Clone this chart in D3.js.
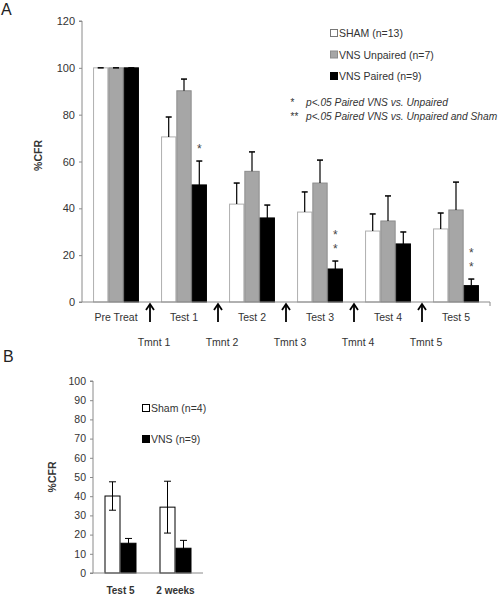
<!DOCTYPE html>
<html>
<head>
<meta charset="utf-8">
<script src="https://cdn.jsdelivr.net/npm/d3@7"></script>
<style>
  body { margin: 0; background: #fff; }
  svg { display: block; font-family: "Liberation Sans", Arial, sans-serif; }
</style>
</head>
<body>
<svg id="chart" width="501" height="600"></svg>
<script>
// ---------- Panel A data ----------
const categoriesA = ["Pre Treat", "Test 1", "Test 2", "Test 3", "Test 4", "Test 5"];
const treatmentsA = ["Tmnt 1", "Tmnt 2", "Tmnt 3", "Tmnt 4", "Tmnt 5"];
const seriesA = ["SHAM (n=13)", "VNS Unpaired (n=7)", "VNS Paired (n=9)"];
const shamA = [100, 70.5, 41.8, 38.4, 30.3, 31.2];
const shamAErr = [0, 8.5, 9.0, 8.6, 7.3, 6.8];
const unpairedA = [100, 90.2, 55.8, 50.8, 34.6, 39.3];
const unpairedAErr = [0, 5.0, 8.3, 9.8, 10.7, 11.9];
const pairedA = [100, 50.0, 35.9, 14.1, 24.8, 7.0];
const pairedAErr = [0, 10.2, 5.5, 3.4, 5.1, 2.8];
const sigA = ["", "*", "", "**", "", "**"];
const yTicksA = [0, 20, 40, 60, 80, 100, 120];
const notesA = [["*", "p<.05 Paired VNS vs. Unpaired"], ["**", "p<.05 Paired VNS vs. Unpaired and Sham"]];

// ---------- Panel B data ----------
const categoriesB = ["Test 5", "2 weeks"];
const seriesB = ["Sham (n=4)", "VNS (n=9)"];
const shamB = [40.1, 34.3];
const shamBErr = [7.4, 13.5];
const vnsB = [15.5, 12.9];
const vnsBErr = [2.5, 4.1];
const yTicksB = [0, 10, 20, 30, 40, 50, 60, 70, 80, 90, 100];

const fills = ["#ffffff", "#a6a6a6", "#000000"];
const strokes = ["#b0b0b0", "#8c8c8c", "#000000"];
const axisColor = "#8a8a8a";
const textColor = "#333333";

const svg = d3.select("#chart");

// ================= Panel A =================
(function () {
  const left = 82, right = 490, top = 21, bottom = 302;
  const slots = [];
  categoriesA.forEach((c, i) => {
    slots.push("c:" + c);
    if (i < treatmentsA.length) slots.push("t:" + treatmentsA[i]);
  });
  const x = d3.scalePoint().domain(slots).range([left, right]).padding(1);
  const y = d3.scaleLinear().domain([0, 120]).range([bottom, top]);
  const barW = 15.3;
  const sub = d3.scaleBand().domain([0, 1, 2]).range([-barW * 1.5, barW * 1.5]);

  const g = svg.append("g");

  const seriesVals = [shamA, unpairedA, pairedA];
  const seriesErr = [shamAErr, unpairedAErr, pairedAErr];
  seriesVals.forEach((vals, s) => {
    g.selectAll(null).data(vals).enter().append("rect")
      .attr("x", (d, i) => x("c:" + categoriesA[i]) + sub(s) + 0.5)
      .attr("y", d => y(d))
      .attr("width", sub.bandwidth() - 1)
      .attr("height", d => bottom - y(d))
      .attr("fill", fills[s])
      .attr("stroke", strokes[s])
      .attr("stroke-width", 1);
  });
  seriesVals.forEach((vals, s) => {
    vals.forEach((v, i) => {
      const cx = x("c:" + categoriesA[i]) + sub(s) + sub.bandwidth() / 2;
      const y1 = y(v), y2 = y(v + seriesErr[s][i]);
      g.append("line").attr("x1", cx).attr("x2", cx).attr("y1", y1).attr("y2", y2)
        .attr("stroke", "#000").attr("stroke-width", 1.2);
      g.append("line").attr("x1", cx - 3).attr("x2", cx + 3).attr("y1", y2).attr("y2", y2)
        .attr("stroke", "#000").attr("stroke-width", 1.5);
    });
  });

  sigA.forEach((s, i) => {
    if (!s) return;
    const cx = x("c:" + categoriesA[i]) + sub(2) + sub.bandwidth() / 2;
    const topY = y(pairedA[i] + pairedAErr[i]);
    for (let k = 0; k < s.length; k++) {
      g.append("text").attr("x", cx).attr("y", topY - 8 - k * 14.5)
        .attr("text-anchor", "middle").attr("font-size", 12).attr("fill", "#444")
        .text("*");
    }
  });

  const yAxis = d3.axisLeft(y).tickValues(yTicksA).tickSize(3).tickPadding(4);
  const ya = g.append("g").attr("transform", `translate(${left},0)`).call(yAxis);
  ya.select(".domain").attr("stroke", axisColor).attr("d", `M-3,${top}H0V${bottom}`);
  ya.selectAll(".tick line").attr("stroke", axisColor);
  ya.selectAll(".tick text").attr("font-size", 11).attr("fill", textColor).attr("font-family", "Liberation Sans, Arial, sans-serif");

  g.append("line").attr("x1", left - 3).attr("x2", right).attr("y1", bottom).attr("y2", bottom)
    .attr("stroke", axisColor);
  g.append("line").attr("x1", right).attr("x2", right).attr("y1", bottom).attr("y2", bottom + 4)
    .attr("stroke", axisColor);

  categoriesA.forEach(c => {
    g.append("text").attr("x", x("c:" + c)).attr("y", 321)
      .attr("text-anchor", "middle").attr("font-size", 10.5).attr("fill", textColor).text(c);
  });
  treatmentsA.forEach(t => {
    const ax = x("t:" + t);
    g.append("line").attr("x1", ax).attr("x2", ax).attr("y1", 305).attr("y2", 322)
      .attr("stroke", "#000").attr("stroke-width", 1.8);
    g.append("path").attr("d", `M${ax - 4},${310}L${ax},${304}L${ax + 4},${310}`)
      .attr("fill", "none").attr("stroke", "#000").attr("stroke-width", 1.8);
    g.append("text").attr("x", ax + 4).attr("y", 346)
      .attr("text-anchor", "middle").attr("font-size", 10.5).attr("fill", textColor).text(t);
  });

  g.append("text").attr("transform", `translate(42,${(top + bottom) / 2 - 6}) rotate(-90)`)
    .attr("text-anchor", "middle").attr("font-size", 10.5).attr("font-weight", "bold")
    .attr("fill", textColor).text("%CFR");

  seriesA.forEach((s, i) => {
    const ly = 33 + i * 21.5;
    g.append("rect").attr("x", 330.5).attr("y", ly - 3.5).attr("width", 7).attr("height", 7)
      .attr("fill", fills[i]).attr("stroke", i === 0 ? "#777" : strokes[i]);
    g.append("text").attr("x", 339).attr("y", ly + 4).attr("font-size", 10.5)
      .attr("fill", textColor).text(s);
  });
  notesA.forEach((n, i) => {
    const ny = 106 + i * 14;
    g.append("text").attr("x", 290).attr("y", ny).attr("font-size", 10.2).attr("font-style", "italic")
      .attr("fill", textColor).text(n[0]);
    g.append("text").attr("x", 306).attr("y", ny).attr("font-size", 10.2).attr("font-style", "italic")
      .attr("fill", textColor).text(n[1]);
  });

  g.append("text").attr("x", 1).attr("y", 15).attr("font-size", 16).attr("fill", "#222").text("A");
})();

// ================= Panel B =================
(function () {
  const left = 93, right = 203, top = 381, bottom = 573;
  const x = d3.scaleBand().domain(categoriesB).range([left, right]);
  const y = d3.scaleLinear().domain([0, 100]).range([bottom, top]);
  const barW = 16;
  const sub = d3.scaleBand().domain([0, 1]).range([-barW, barW]);
  const g = svg.append("g");

  const vals = [shamB, vnsB], errs = [shamBErr, vnsBErr];
  const fB = ["#ffffff", "#000000"];
  vals.forEach((vs, s) => {
    g.selectAll(null).data(vs).enter().append("rect")
      .attr("x", (d, i) => x(categoriesB[i]) + x.bandwidth() / 2 + sub(s) + 0.5)
      .attr("y", d => y(d))
      .attr("width", sub.bandwidth() - 1)
      .attr("height", d => bottom - y(d))
      .attr("fill", fB[s]).attr("stroke", "#000").attr("stroke-width", 1);
  });
  vals.forEach((vs, s) => {
    vs.forEach((v, i) => {
      const cx = x(categoriesB[i]) + x.bandwidth() / 2 + sub(s) + sub.bandwidth() / 2;
      const y1 = y(v - errs[s][i]), y2 = y(v + errs[s][i]);
      g.append("line").attr("x1", cx).attr("x2", cx).attr("y1", y1).attr("y2", y2)
        .attr("stroke", "#000").attr("stroke-width", 1);
      [y1, y2].forEach(yy => g.append("line").attr("x1", cx - 3.5).attr("x2", cx + 3.5)
        .attr("y1", yy).attr("y2", yy).attr("stroke", "#000").attr("stroke-width", 1));
    });
  });

  const yAxis = d3.axisLeft(y).tickValues(yTicksB).tickSize(3).tickPadding(4);
  const ya = g.append("g").attr("transform", `translate(${left},0)`).call(yAxis);
  ya.select(".domain").attr("stroke", axisColor).attr("d", `M-3,${top}H0V${bottom}`);
  ya.selectAll(".tick line").attr("stroke", axisColor);
  ya.selectAll(".tick text").attr("font-size", 10.5).attr("fill", textColor).attr("font-family", "Liberation Sans, Arial, sans-serif");
  g.append("line").attr("x1", left - 3).attr("x2", right).attr("y1", bottom).attr("y2", bottom)
    .attr("stroke", axisColor);

  categoriesB.forEach(c => {
    g.append("text").attr("x", x(c) + x.bandwidth() / 2).attr("y", 594)
      .attr("text-anchor", "middle").attr("font-size", 10).attr("font-weight", "bold")
      .attr("fill", textColor).text(c);
  });

  g.append("text").attr("transform", `translate(56,${(top + bottom) / 2}) rotate(-90)`)
    .attr("text-anchor", "middle").attr("font-size", 10.5).attr("font-weight", "bold")
    .attr("fill", textColor).text("%CFR");

  seriesB.forEach((s, i) => {
    const ly = 408 + i * 31;
    g.append("rect").attr("x", 142.5).attr("y", ly - 3.5).attr("width", 7).attr("height", 7)
      .attr("fill", fB[i]).attr("stroke", "#000");
    g.append("text").attr("x", 151).attr("y", ly + 4).attr("font-size", 10.5)
      .attr("fill", textColor).text(s);
  });

  g.append("text").attr("x", 3).attr("y", 362).attr("font-size", 16).attr("fill", "#222").text("B");
})();
</script>
</body>
</html>
